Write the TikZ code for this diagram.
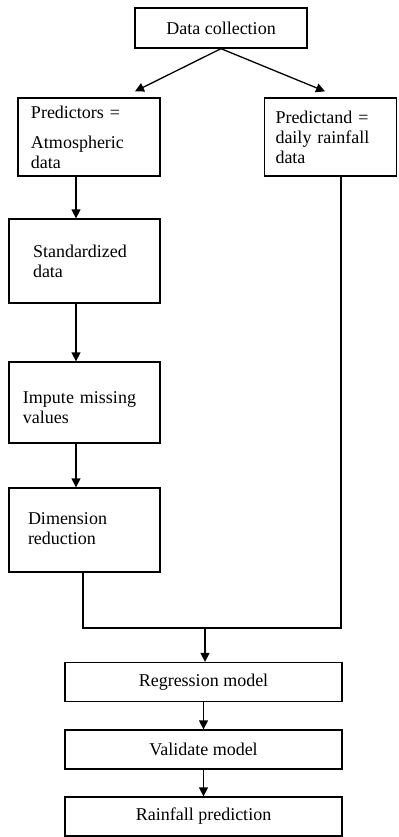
\documentclass[tikz,border=0pt]{standalone}
\usepackage{fontspec}
\setmainfont{Liberation Serif}
\usepackage{tikz}
\usetikzlibrary{arrows.meta, positioning}

\begin{document}
\begin{tikzpicture}[x=0.5pt, y=-0.5pt, >={Triangle[length=4.5pt, width=4.5pt]}, line width=0.65pt, font=\fontsize{9}{10}\selectfont]
    \tikzstyle{step box} = [rectangle, draw=black, inner sep=0pt, align=left]
    \tikzstyle{wide box} = [rectangle, draw=black, inner sep=0pt, align=center, minimum width=138.5pt, minimum height=19.5pt]

    \useasboundingbox (0,0) rectangle (398,837);

    \node (collect) [step box, align=center, minimum width=86pt, minimum height=20pt] at (221,28) {Data collection};

    % Left branch (predictors)
    \node (predictors) [step box, minimum width=71pt, minimum height=39pt, text width=58pt] at (89,137) {Predictors =\\[5pt]Atmospheric\\data};
    \node (standard) [step box, minimum width=75.5pt, minimum height=42pt, text width=51.5pt] at (84.5,261) {Standardized\\data};
    \node (impute) [step box, minimum width=75.5pt, minimum height=40.5pt, text width=61.5pt, text depth=5pt] at (84.5,402.5) {Impute missing\\values};
    \node (dimred) [step box, minimum width=75.5pt, minimum height=42pt, text width=56.5pt, text depth=11pt] at (84.5,530) {Dimension\\reduction};

    % Right branch (predictand)
    \node (predictand) [step box, minimum width=66pt, minimum height=39pt, text width=55pt] at (330.5,137) {Predictand =\\daily rainfall\\data};

    % Bottom chain
    \node (regress) [wide box] at (203.5,682) {Regression model};
    \node (validate) [wide box] at (203.5,749.5) {Validate model};
    \node (rainfall) [wide box] at (203.5,816.5) {Rainfall prediction};

    \coordinate (merge) at (205,628);

    \draw[->] (collect.south) -- ([xshift=23pt, yshift=3pt]predictors.north);
    \draw[->] (collect.south) -- ([xshift=-2.75pt, yshift=3pt]predictand.north);

    \draw[->] ([xshift=-6.5pt]predictors.south) -- ([xshift=-6.5pt]predictors.south |- standard.north);
    \draw[->] ([xshift=-4.25pt]standard.south) -- ([xshift=-4.25pt]impute.north);
    \draw[->] ([xshift=-4.25pt]impute.south) -- ([xshift=-4.25pt]dimred.north);

    % Join both branches
    \draw ([xshift=-0.75pt]dimred.south) |- (merge);
    \draw ([xshift=5.25pt]predictand.south) |- (merge);
    \draw[->] (merge) -- (merge |- regress.north);

    \draw[->] (regress) -- (validate);
    \draw[->] (validate) -- (rainfall);
\end{tikzpicture}
\end{document}
